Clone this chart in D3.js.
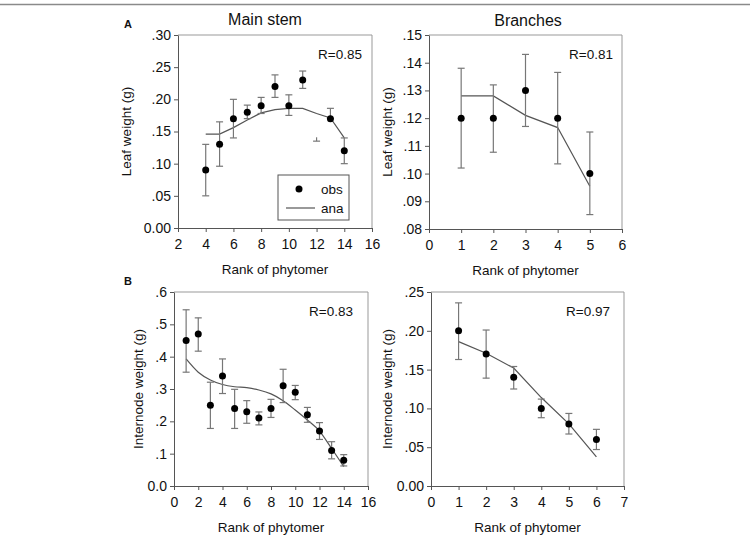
<!DOCTYPE html>
<html><head><meta charset="utf-8">
<script src="https://cdn.jsdelivr.net/npm/d3@7"></script>
<style>
html,body{margin:0;padding:0;background:#fff;}
svg{display:block;font-family:"Liberation Sans",Arial,sans-serif;}
</style></head>
<body>
<svg id="chart" width="750" height="537"></svg>
<script>
// ---- Data ----
const mainLeafRank = [4,5,6,7,8,9,10,11,12,13,14];
const mainLeafObs  = [0.09,0.13,0.17,0.18,0.19,0.22,0.19,0.23,null,0.17,0.12];
const mainLeafHi   = [0.13,0.165,0.20,0.191,0.203,0.238,0.207,0.244,0.141,0.186,0.14];
const mainLeafLo   = [0.05,0.096,0.14,0.17,0.178,0.203,0.175,0.217,0.135,0.17,0.10];
const mainLeafAna  = [0.146,0.146,0.156,0.168,0.179,0.184,0.186,0.186,0.178,0.171,0.14];

const branchLeafRank = [1,2,3,4,5];
const branchLeafObs  = [0.12,0.12,0.13,0.12,0.10];
const branchLeafHi   = [0.138,0.132,0.143,0.1365,0.115];
const branchLeafLo   = [0.102,0.1077,0.117,0.1035,0.0852];
const branchLeafAna  = [0.128,0.128,0.121,0.1166,0.0954];

const mainIntRank = [1,2,3,4,5,6,7,8,9,10,11,12,13,14];
const mainIntObs  = [0.45,0.47,0.25,0.34,0.24,0.23,0.21,0.24,0.31,0.29,0.22,0.17,0.11,0.08];
const mainIntHi   = [0.545,0.52,0.321,0.393,0.299,0.264,0.229,0.268,0.361,0.311,0.243,0.196,0.137,0.097];
const mainIntLo   = [0.352,0.417,0.178,0.286,0.178,0.194,0.189,0.212,0.258,0.267,0.197,0.144,0.084,0.062];
const mainIntAna  = [0.393,0.352,0.328,0.314,0.307,0.304,0.297,0.285,0.264,0.235,0.204,0.170,0.116,0.060];

const branchIntRank = [1,2,3,4,5,6];
const branchIntObs  = [0.20,0.17,0.14,0.10,0.08,0.06];
const branchIntHi   = [0.236,0.201,0.154,0.112,0.0935,0.073];
const branchIntLo   = [0.163,0.139,0.125,0.088,0.067,0.047];
const branchIntAna  = [0.186,0.171,0.152,0.114,0.080,0.0375];

const mainLeafYTicks   = [0,0.05,0.10,0.15,0.20,0.25,0.30];
const branchLeafYTicks = [0.08,0.09,0.10,0.11,0.12,0.13,0.14,0.15];
const mainIntYTicks    = [0,0.1,0.2,0.3,0.4,0.5,0.6];
const branchIntYTicks  = [0,0.05,0.10,0.15,0.20,0.25];
const mainLeafXTicks   = [2,4,6,8,10,12,14,16];
const branchLeafXTicks = [0,1,2,3,4,5,6];
const mainIntXTicks    = [0,2,4,6,8,10,12,14,16];
const branchIntXTicks  = [0,1,2,3,4,5,6,7];

const rValues = ["R=0.85","R=0.81","R=0.83","R=0.97"];
const titles = ["Main stem","Branches"];
const panelLetters = ["A","B"];
const xTitle = "Rank of phytomer";
const yTitles = ["Leaf weight (g)","Internode weight (g)"];
const legendLabels = ["obs","ana"];

// ---- Drawing ----
const svg = d3.select("#chart");
svg.append("line").attr("x1",0).attr("x2",750).attr("y1",4.5).attr("y2",4.5)
  .attr("stroke","#8a8a8a").attr("stroke-width",1.5);

function fmtDec(d, digits){
  if (d === 0) return d3.format("."+digits+"f")(0);
  return d3.format("."+digits+"f")(d).replace(/^0\./,".");
}

const panels = [
  {box:[178,372,35,228], xd:[2,16], yd:[0,0.30], xt:mainLeafXTicks, yt:mainLeafYTicks, dig:2,
   rank:mainLeafRank, obs:mainLeafObs, hi:mainLeafHi, lo:mainLeafLo, ana:mainLeafAna,
   r:rValues[0], rdx:10, ytitle:yTitles[0], ytx:126, curve:d3.curveLinear, legend:true},
  {box:[429,622,35,229], xd:[0,6], yd:[0.08,0.15], xt:branchLeafXTicks, yt:branchLeafYTicks, dig:2,
   rank:branchLeafRank, obs:branchLeafObs, hi:branchLeafHi, lo:branchLeafLo, ana:branchLeafAna,
   r:rValues[1], rdx:9, ytitle:yTitles[0], ytx:387, curve:d3.curveLinear},
  {box:[174,368,292,486], xd:[0,16], yd:[0,0.6], xt:mainIntXTicks, yt:mainIntYTicks, dig:1,
   rank:mainIntRank, obs:mainIntObs, hi:mainIntHi, lo:mainIntLo, ana:mainIntAna,
   r:rValues[2], rdx:15, ytitle:yTitles[1], ytx:138, curve:d3.curveMonotoneX},
  {box:[431,624,292,486], xd:[0,7], yd:[0,0.25], xt:branchIntXTicks, yt:branchIntYTicks, dig:2,
   rank:branchIntRank, obs:branchIntObs, hi:branchIntHi, lo:branchIntLo, ana:branchIntAna,
   r:rValues[3], rdx:14, ytitle:yTitles[1], ytx:387, curve:d3.curveLinear}
];

const axisCol = "#555";
const frameCol = "#999";
const errCol = "#777";

panels.forEach((p,i)=>{
  const [L,R,T,B] = p.box;
  const x = d3.scaleLinear().domain(p.xd).range([L,R]);
  const y = d3.scaleLinear().domain(p.yd).range([B,T]);
  const g = svg.append("g");

  // frame (top & right)
  g.append("path").attr("d",`M${L},${T}H${R}V${B}`).attr("fill","none")
    .attr("stroke",frameCol).attr("stroke-width",1);

  const xa = g.append("g").attr("transform",`translate(0,${B})`)
    .call(d3.axisBottom(x).tickValues(p.xt).tickSize(4).tickSizeOuter(0).tickPadding(7).tickFormat(d3.format("d")));
  const ya = g.append("g").attr("transform",`translate(${L},0)`)
    .call(d3.axisLeft(y).tickValues(p.yt).tickSize(4).tickSizeOuter(0).tickPadding(3).tickFormat(d=>fmtDec(d,p.dig)));
  [xa,ya].forEach(a=>{
    a.select(".domain").attr("stroke",axisCol);
    a.selectAll(".tick line").attr("stroke",axisCol);
    a.selectAll("text").attr("fill","#111").attr("font-size","14px")
      .attr("font-family","'Liberation Sans',Arial,sans-serif");
  });

  // axis titles
  g.append("text").attr("x",(L+R)/2).attr("y",B+46).attr("text-anchor","middle")
    .attr("font-size","13.5px").attr("fill","#111").text(xTitle);
  g.append("text").attr("transform",`translate(${p.ytx},${(T+B)/2}) rotate(-90)`)
    .attr("text-anchor","middle").attr("dy","0.35em").attr("font-size","13.5px").attr("fill","#111").text(p.ytitle);

  // R text
  g.append("text").attr("x",R-p.rdx).attr("y",T+24).attr("text-anchor","end")
    .attr("font-size","13.5px").attr("fill","#111").text(p.r);

  // ana line
  const pts = p.rank.map((r,k)=>[r,p.ana[k]]);
  g.append("path").attr("d",d3.line().x(d=>x(d[0])).y(d=>y(d[1])).curve(p.curve)(pts))
    .attr("fill","none").attr("stroke","#555").attr("stroke-width",1.2);

  // error bars
  const cw = 3.5;
  p.rank.forEach((r,k)=>{
    const xi = x(r);
    const yl = y(p.lo[k]), yh = y(p.hi[k]);
    g.append("line").attr("x1",xi).attr("x2",xi).attr("y1",yl).attr("y2",yh)
      .attr("stroke",errCol).attr("stroke-width",1.2);
    g.append("line").attr("x1",xi-cw).attr("x2",xi+cw).attr("y1",yl).attr("y2",yl)
      .attr("stroke",errCol).attr("stroke-width",1.2);
    if (p.obs[k] !== null) {
      g.append("line").attr("x1",xi-cw).attr("x2",xi+cw).attr("y1",yh).attr("y2",yh)
        .attr("stroke",errCol).attr("stroke-width",1.2);
    }
  });

  // obs dots
  p.rank.forEach((r,k)=>{
    if (p.obs[k] === null) return;
    g.append("circle").attr("cx",x(r)).attr("cy",y(p.obs[k])).attr("r",3.5).attr("fill","#000");
  });

  if (p.legend) {
    const lx=278, ly=175, lw=71, lh=45;
    g.append("rect").attr("x",lx).attr("y",ly).attr("width",lw).attr("height",lh)
      .attr("fill","#fff").attr("stroke","#555").attr("stroke-width",1);
    g.append("circle").attr("cx",lx+21).attr("cy",ly+14).attr("r",3.5).attr("fill","#000");
    g.append("text").attr("x",lx+43).attr("y",ly+14).attr("dy","0.35em")
      .attr("font-size","13.5px").attr("fill","#111").text(legendLabels[0]);
    g.append("line").attr("x1",lx+8).attr("x2",lx+37).attr("y1",ly+33).attr("y2",ly+33)
      .attr("stroke","#555").attr("stroke-width",1.2);
    g.append("text").attr("x",lx+43).attr("y",ly+33).attr("dy","0.35em")
      .attr("font-size","13.5px").attr("fill","#111").text(legendLabels[1]);
  }
});

// titles & letters
svg.append("text").attr("x",265).attr("y",25).attr("text-anchor","middle")
  .attr("font-size","16px").attr("fill","#111").text(titles[0]);
svg.append("text").attr("x",528).attr("y",26).attr("text-anchor","middle")
  .attr("font-size","16px").attr("fill","#111").text(titles[1]);
svg.append("text").attr("x",128).attr("y",28).attr("text-anchor","middle")
  .attr("font-size","11px").attr("font-weight","bold").attr("fill","#111").text(panelLetters[0]);
svg.append("text").attr("x",128).attr("y",285).attr("text-anchor","middle")
  .attr("font-size","11px").attr("font-weight","bold").attr("fill","#111").text(panelLetters[1]);
</script>
</body></html>
